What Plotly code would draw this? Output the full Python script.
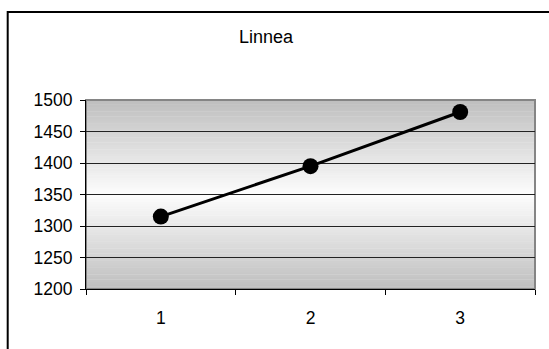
import plotly.graph_objects as go

categories = ["1", "2", "3"]
values = [1315, 1395, 1481]
title_text = "Linnea"
y_ticks = [1200, 1250, 1300, 1350, 1400, 1450, 1500]

W, H = 549, 349
ML, MR, MT, MB = 86, 14, 100, 60
PW, PH = W - ML - MR, H - MT - MB

def px_x(p):
    return (p - ML) / PW

def px_y(p):
    return (H - MB - p) / PH

shapes = []
# reflected gradient background (dark at top/bottom, light at middle)
n = 80
for i in range(n):
    t0 = i / n
    t1 = (i + 1) / n
    tc = (t0 + t1) / 2
    d = abs(tc - 0.5) * 2
    c = int(round(253 - (253 - 190) * d))
    shapes.append(dict(type="rect", xref="x domain", yref="y domain",
                       x0=0, x1=1, y0=t0, y1=t1 + 0.002, line=dict(width=0),
                       fillcolor=f"rgb({c},{c},{c})", layer="below"))
# plot area border (gray)
shapes.append(dict(type="rect", xref="x domain", yref="y domain",
                   x0=0, x1=1, y0=0, y1=1, line=dict(color="#858585", width=2),
                   fillcolor="rgba(0,0,0,0)", layer="below"))
# outer chart border
shapes.append(dict(type="rect", xref="paper", yref="paper",
                   x0=px_x(7.7), x1=px_x(575), y0=px_y(375), y1=px_y(12),
                   line=dict(color="black", width=2),
                   fillcolor="rgba(0,0,0,0)", layer="above"))

fig = go.Figure()
fig.add_trace(go.Scatter(
    x=categories, y=values, mode="lines+markers",
    line=dict(color="black", width=3),
    marker=dict(color="black", size=16),
    cliponaxis=False, showlegend=False,
))

fig.update_layout(
    width=W, height=H,
    margin=dict(l=ML, r=MR, t=MT, b=MB, pad=0),
    paper_bgcolor="white", plot_bgcolor="rgba(0,0,0,0)",
    font=dict(family="Liberation Sans, Arial, sans-serif", size=17.5, color="black"),
    shapes=shapes,
    annotations=[dict(text=title_text, xref="paper", yref="paper",
                      x=px_x(266), y=px_y(37), xanchor="center", yanchor="middle",
                      showarrow=False, font=dict(size=18, color="black"))],
    xaxis=dict(type="category", range=[-0.5, 2.5], tickson="boundaries",
               showgrid=False, showline=True, linecolor="black", linewidth=1,
               ticks="outside", ticklen=5, tickcolor="black", ticklabelstandoff=13,
               zeroline=False, fixedrange=True),
    yaxis=dict(range=[1200, 1500], tickvals=y_ticks, showgrid=True,
               gridcolor="#222222", gridwidth=1, showline=True, linecolor="black",
               linewidth=1, ticks="outside", ticklen=5, tickcolor="black",
               ticklabelstandoff=4, zeroline=False, fixedrange=True),
)

fig.write_html("out.html")
